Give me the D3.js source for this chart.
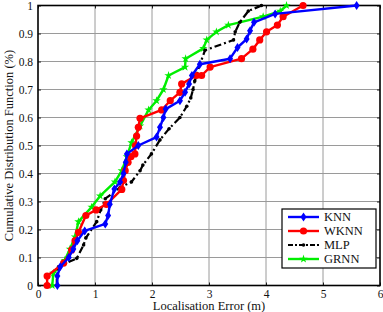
<!DOCTYPE html>
<html><head><meta charset="utf-8">
<script src="https://cdn.jsdelivr.net/npm/d3@7/dist/d3.min.js"></script>
<style>body{margin:0;background:#fff}svg{display:block}</style>
</head><body><svg id="c" width="383" height="312"></svg>
<script>
const xTicks = [0,1,2,3,4,5,6];
const yTicks = [0,0.1,0.2,0.3,0.4,0.5,0.6,0.7,0.8,0.9,1];
const yTickLabels = ["0","0.1","0.2","0.3","0.4","0.5","0.6","0.7","0.8","0.9","1"];
const seriesNames = ["KNN","WKNN","MLP","GRNN"];
const knn = [[0.34,0],[0.34,0.034],[0.39,0.067],[0.54,0.1],[0.62,0.13],[0.69,0.16],[0.82,0.195],[1.18,0.22],[1.23,0.25],[1.26,0.29],[1.34,0.345],[1.44,0.37],[1.50,0.40],[1.54,0.44],[1.56,0.47],[1.76,0.50],[2.08,0.53],[2.14,0.565],[2.2,0.60],[2.24,0.63],[2.49,0.66],[2.58,0.69],[2.65,0.72],[2.7,0.75],[2.84,0.79],[3.37,0.81],[3.5,0.85],[3.66,0.88],[3.72,0.91],[3.79,0.94],[4.16,0.97],[5.59,1.0]];
const wknn = [[0.16,0],[0.16,0.034],[0.45,0.08],[0.59,0.127],[0.65,0.16],[0.71,0.19],[0.84,0.25],[1.02,0.27],[1.2,0.29],[1.47,0.343],[1.5,0.375],[1.53,0.41],[1.58,0.44],[1.63,0.46],[1.70,0.47],[1.71,0.50],[1.73,0.534],[1.76,0.565],[1.79,0.597],[2.17,0.627],[2.32,0.66],[2.49,0.69],[2.52,0.72],[2.78,0.75],[2.87,0.75],[3.02,0.78],[3.57,0.81],[3.77,0.844],[3.89,0.877],[4.01,0.906],[4.2,0.93],[4.3,0.96],[4.65,1.0]];
const mlp = [[0.33,0],[0.33,0.034],[0.36,0.067],[0.68,0.097],[0.8,0.145],[0.84,0.17],[1.03,0.228],[1.1,0.27],[1.18,0.31],[1.44,0.35],[1.64,0.37],[1.79,0.41],[1.84,0.43],[1.99,0.47],[2.14,0.52],[2.3,0.56],[2.49,0.60],[2.61,0.64],[2.68,0.67],[2.72,0.70],[2.75,0.73],[2.84,0.79],[2.93,0.84],[3.43,0.877],[3.46,0.906],[3.54,0.94],[3.69,0.98],[3.92,1.0]];
const grnn = [[0.25,0],[0.27,0.044],[0.47,0.09],[0.56,0.13],[0.65,0.174],[0.71,0.228],[0.94,0.28],[1.09,0.32],[1.35,0.37],[1.47,0.41],[1.56,0.46],[1.64,0.51],[1.79,0.57],[1.94,0.627],[2.08,0.66],[2.2,0.70],[2.29,0.75],[2.58,0.78],[2.59,0.81],[2.9,0.847],[2.96,0.877],[3.13,0.906],[3.34,0.93],[3.95,0.96],[4.25,0.98],[4.36,1.0]];

const FONT = "Liberation Serif";
const svg = d3.select("#c");
const L=38,R=380,T=5.5,B=285.5;
const x = d3.scaleLinear().domain([0,6]).range([L,R]);
const y = d3.scaleLinear().domain([0,1]).range([B,T]);

// grid
const g = svg.append("g");
g.selectAll(".gx").data(xTicks.slice(1,-1)).join("line").attr("x1",d=>x(d)).attr("x2",d=>x(d)).attr("y1",T).attr("y2",B).attr("stroke","#9a9a9a").attr("stroke-width",1);
g.selectAll(".gy").data(yTicks.slice(1,-1)).join("line").attr("y1",d=>y(d)).attr("y2",d=>y(d)).attr("x1",L).attr("x2",R).attr("stroke","#9a9a9a").attr("stroke-width",1);

// axes
const ax = svg.append("g").attr("transform",`translate(0,${B})`).call(d3.axisBottom(x).tickValues(xTicks).tickSize(-3).tickPadding(4).tickFormat(d3.format("d")));
const ay = svg.append("g").attr("transform",`translate(${L},0)`).call(d3.axisLeft(y).tickValues(yTicks).tickSize(-3).tickPadding(5).tickFormat((d,i)=>yTickLabels[i]));
const axT = svg.append("g").attr("transform",`translate(0,${T})`).call(d3.axisTop(x).tickValues(xTicks).tickSize(-3).tickFormat(""));
const ayR = svg.append("g").attr("transform",`translate(${R},0)`).call(d3.axisRight(y).tickValues(yTicks).tickSize(-3).tickFormat(""));
[ax,ay,axT,ayR].forEach(a=>{a.attr("font-family",FONT);a.select(".domain").remove();a.selectAll("line").attr("stroke","#222");a.selectAll("text").attr("font-family",FONT).attr("font-size",11.5).attr("fill","#111");});
svg.append("rect").attr("x",L).attr("y",T).attr("width",R-L).attr("height",B-T).attr("fill","none").attr("stroke","#000").attr("stroke-width",1.6);

// series
const line = d3.line().x(d=>x(d[0])).y(d=>y(d[1]));
const cfg = [
 {data:knn,color:"#0000ff",w:2.4,dash:null,marker:"diamond"},
 {data:wknn,color:"#ff0000",w:2.4,dash:null,marker:"circle"},
 {data:mlp,color:"#000",w:2.2,dash:"7,3,2,3",marker:"dot"},
 {data:grnn,color:"#00ee00",w:2.4,dash:null,marker:"star"}
];
const drawOrder=[3,2,1,0];
function marker(sel,type,color){
  if(type==="diamond") sel.append("path").attr("d","M0,-4.5L3,0L0,4.5L-3,0Z").attr("fill",color);
  else if(type==="circle") sel.append("circle").attr("r",3.6).attr("fill",color);
  else if(type==="dot") sel.append("circle").attr("r",1.8).attr("fill",color);
  else sel.append("path").attr("d",d3.symbol(d3.symbolStar,22)()).attr("fill",color);
}
drawOrder.forEach(i=>{
  const c=cfg[i];
  const gg=svg.append("g");
  gg.append("path").datum(c.data).attr("d",line).attr("fill","none").attr("stroke",c.color).attr("stroke-width",c.w).attr("stroke-dasharray",c.dash).attr("stroke-linejoin","round");
  c.data.forEach(d=>{const m=gg.append("g").attr("transform",`translate(${x(d[0])},${y(d[1])})`);marker(m,c.marker,c.color);});
});

// legend
const lg = svg.append("g");
lg.append("rect").attr("x",282).attr("y",209).attr("width",94).attr("height",59).attr("fill","#fff").attr("stroke","#000").attr("stroke-width",1.2);
seriesNames.forEach((n,i)=>{
  const c=cfg[i], yy=217+i*14;
  lg.append("line").attr("x1",288).attr("x2",319).attr("y1",yy).attr("y2",yy).attr("stroke",c.color).attr("stroke-width",c.w).attr("stroke-dasharray",c.dash?"5,2,2,2":null);
  const m=lg.append("g").attr("transform",`translate(303.5,${yy})`);marker(m,c.marker,c.color);
  lg.append("text").attr("x",324).attr("y",yy+4).attr("font-size",12.5).attr("font-family",FONT).attr("fill","#111").text(n);
});

// labels
svg.append("text").attr("x",(L+R)/2).attr("y",310).attr("text-anchor","middle").attr("font-size",12.5).attr("font-family",FONT).attr("fill","#111").text("Localisation Error (m)");
svg.append("text").attr("transform",`translate(13,${(T+B)/2}) rotate(-90)`).attr("text-anchor","middle").attr("font-size",12.5).attr("font-family",FONT).attr("fill","#111").text("Cumulative Distribution Function (%)");
</script></body></html>
